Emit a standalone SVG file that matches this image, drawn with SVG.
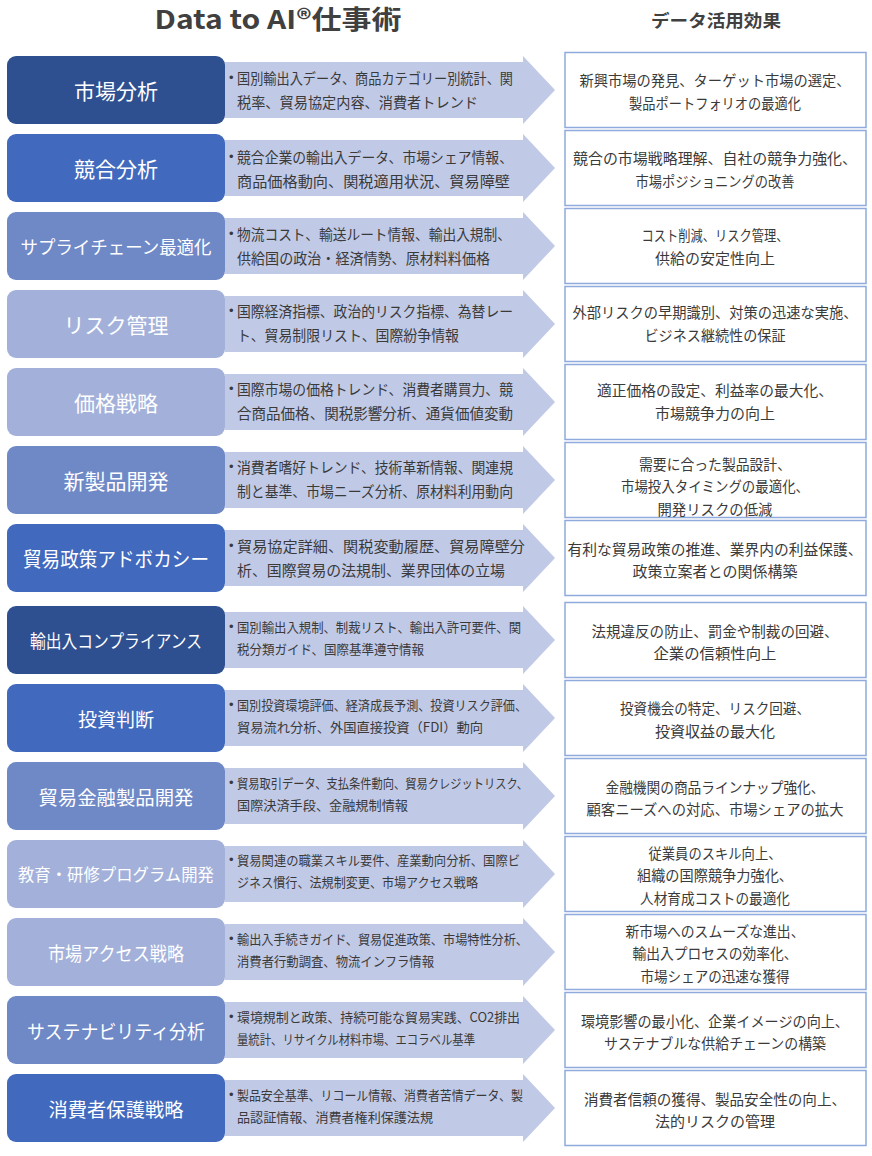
<svg xmlns="http://www.w3.org/2000/svg" width="872" height="1156" viewBox="0 0 872 1156">
<style>
text{font-family:"Meiryo UI","Noto Sans CJK JP","Noto Sans",sans-serif;}
.hd{fill:#404040;font-weight:bold;text-anchor:middle;}
.tt{fill:#fff;text-anchor:middle;dominant-baseline:central;}
.t1{font-size:21px;}
.t2{font-size:19px;}
.ar{fill:#3a3a3a;dominant-baseline:central;}
.a1{font-size:14.5px;}
.a2{font-size:13px;}
.bu{fill:#3a3a3a;font-family:"Liberation Sans",sans-serif;font-size:13px;dominant-baseline:central;}
.rt{fill:#3a3a3a;font-size:14.5px;text-anchor:middle;dominant-baseline:central;}
.arrow{fill:#C0C9E6;}
.rb{fill:#fff;stroke:#8FAADC;stroke-width:1.5;}
.c1{fill:#2F5090;}
.c2{fill:#4169BD;}
.c3{fill:#6F89C7;}
.c4{fill:#A3B1DA;}
</style>
<g id="header">
<text class="hd" x="278" y="29" font-size="26" textLength="247" lengthAdjust="spacingAndGlyphs">Data to AI®仕事術</text>
<text class="hd" x="716" y="27" font-size="17" textLength="130" lengthAdjust="spacingAndGlyphs">データ活用効果</text>
</g>
<g id="connectors">
<path class="arrow" d="M225,62H523V56L555,90L523,124V118H225Z"/>
<path class="arrow" d="M225,140H523V134L555,168L523,202V196H225Z"/>
<path class="arrow" d="M225,218H523V212L555,246L523,280V274H225Z"/>
<path class="arrow" d="M225,296H523V290L555,324L523,358V352H225Z"/>
<path class="arrow" d="M225,374H523V368L555,402L523,436V430H225Z"/>
<path class="arrow" d="M225,452H523V446L555,480L523,514V508H225Z"/>
<path class="arrow" d="M225,530H523V524L555,558L523,592V586H225Z"/>
<path class="arrow" d="M225,612H523V606L555,640L523,674V668H225Z"/>
<path class="arrow" d="M225,690H523V684L555,718L523,752V746H225Z"/>
<path class="arrow" d="M225,768H523V762L555,796L523,830V824H225Z"/>
<path class="arrow" d="M225,846H523V840L555,874L523,908V902H225Z"/>
<path class="arrow" d="M225,924H523V918L555,952L523,986V980H225Z"/>
<path class="arrow" d="M225,1002H523V996L555,1030L523,1064V1058H225Z"/>
<path class="arrow" d="M225,1080H523V1074L555,1108L523,1142V1136H225Z"/>
</g>
<g id="row1">
<rect class="c1" x="7" y="56" width="218" height="68" rx="9"/>
<text class="tt t1" x="116" y="90">市場分析</text>
<text class="bu" x="229" y="77">•</text>
<text class="ar a1" x="237" y="77" textLength="276" lengthAdjust="spacingAndGlyphs">国別輸出入データ、商品カテゴリー別統計、関</text>
<text class="ar a1" x="237" y="101" textLength="241" lengthAdjust="spacingAndGlyphs">税率、貿易協定内容、消費者トレンド</text>
<rect class="rb" x="565" y="52.5" width="301" height="75"/>
<text class="rt" x="715" y="79" textLength="271" lengthAdjust="spacingAndGlyphs">新興市場の発見、ターゲット市場の選定、</text>
<text class="rt" x="715" y="102" textLength="172" lengthAdjust="spacingAndGlyphs">製品ポートフォリオの最適化</text>
</g>
<g id="row2">
<rect class="c2" x="7" y="134" width="218" height="68" rx="9"/>
<text class="tt t1" x="116" y="168">競合分析</text>
<text class="bu" x="229" y="156">•</text>
<text class="ar a1" x="237" y="156" textLength="276" lengthAdjust="spacingAndGlyphs">競合企業の輸出入データ、市場シェア情報、</text>
<text class="ar a1" x="237" y="180" textLength="273" lengthAdjust="spacingAndGlyphs">商品価格動向、関税適用状況、貿易障壁</text>
<rect class="rb" x="565" y="130.5" width="301" height="75"/>
<text class="rt" x="715" y="157" textLength="284" lengthAdjust="spacingAndGlyphs">競合の市場戦略理解、自社の競争力強化、</text>
<text class="rt" x="715" y="180" textLength="159" lengthAdjust="spacingAndGlyphs">市場ポジショニングの改善</text>
</g>
<g id="row3">
<rect class="c3" x="7" y="212" width="218" height="68" rx="9"/>
<text class="tt" x="116" y="246" font-size="18" textLength="191" lengthAdjust="spacingAndGlyphs">サプライチェーン最適化</text>
<text class="bu" x="229" y="233">•</text>
<text class="ar a1" x="237" y="233" textLength="274" lengthAdjust="spacingAndGlyphs">物流コスト、輸送ルート情報、輸出入規制、</text>
<text class="ar a1" x="237" y="257" textLength="253" lengthAdjust="spacingAndGlyphs">供給国の政治・経済情勢、原材料料価格</text>
<rect class="rb" x="565" y="208.5" width="301" height="75"/>
<text class="rt" x="715" y="234" textLength="147" lengthAdjust="spacingAndGlyphs">コスト削減、リスク管理、</text>
<text class="rt" x="715" y="257" textLength="120" lengthAdjust="spacingAndGlyphs">供給の安定性向上</text>
</g>
<g id="row4">
<rect class="c4" x="7" y="290" width="218" height="68" rx="9"/>
<text class="tt t1" x="116" y="324">リスク管理</text>
<text class="bu" x="229" y="310">•</text>
<text class="ar a1" x="237" y="310" textLength="276" lengthAdjust="spacingAndGlyphs">国際経済指標、政治的リスク指標、為替レー</text>
<text class="ar a1" x="237" y="334" textLength="222" lengthAdjust="spacingAndGlyphs">ト、貿易制限リスト、国際紛争情報</text>
<rect class="rb" x="565" y="286.5" width="301" height="75"/>
<text class="rt" x="715" y="311" textLength="285" lengthAdjust="spacingAndGlyphs">外部リスクの早期識別、対策の迅速な実施、</text>
<text class="rt" x="715" y="334" textLength="141" lengthAdjust="spacingAndGlyphs">ビジネス継続性の保証</text>
</g>
<g id="row5">
<rect class="c4" x="7" y="368" width="218" height="68" rx="9"/>
<text class="tt t1" x="116" y="402">価格戦略</text>
<text class="bu" x="229" y="388">•</text>
<text class="ar a1" x="237" y="388" textLength="276" lengthAdjust="spacingAndGlyphs">国際市場の価格トレンド、消費者購買力、競</text>
<text class="ar a1" x="237" y="412" textLength="276" lengthAdjust="spacingAndGlyphs">合商品価格、関税影響分析、通貨価値変動</text>
<rect class="rb" x="565" y="364.5" width="301" height="75"/>
<text class="rt" x="715" y="389" textLength="236" lengthAdjust="spacingAndGlyphs">適正価格の設定、利益率の最大化、</text>
<text class="rt" x="715" y="412" textLength="120" lengthAdjust="spacingAndGlyphs">市場競争力の向上</text>
</g>
<g id="row6">
<rect class="c3" x="7" y="446" width="218" height="68" rx="9"/>
<text class="tt t1" x="116" y="480">新製品開発</text>
<text class="bu" x="229" y="466">•</text>
<text class="ar a1" x="237" y="466" textLength="276" lengthAdjust="spacingAndGlyphs">消費者嗜好トレンド、技術革新情報、関連規</text>
<text class="ar a1" x="237" y="490" textLength="276" lengthAdjust="spacingAndGlyphs">制と基準、市場ニーズ分析、原材料利用動向</text>
<rect class="rb" x="565" y="442.5" width="301" height="75"/>
<text class="rt" x="715" y="463" textLength="152" lengthAdjust="spacingAndGlyphs">需要に合った製品設計、</text>
<text class="rt" x="715" y="485" textLength="188" lengthAdjust="spacingAndGlyphs">市場投入タイミングの最適化、</text>
<text class="rt" x="715" y="508" textLength="115" lengthAdjust="spacingAndGlyphs">開発リスクの低減</text>
</g>
<g id="row7">
<rect class="c2" x="7" y="524" width="218" height="68" rx="9"/>
<text class="tt" x="116" y="558" font-size="20" textLength="186" lengthAdjust="spacingAndGlyphs">貿易政策アドボカシー</text>
<text class="bu" x="229" y="545">•</text>
<text class="ar a1" x="237" y="545" textLength="288" lengthAdjust="spacingAndGlyphs">貿易協定詳細、関税変動履歴、貿易障壁分</text>
<text class="ar a1" x="237" y="569" textLength="268" lengthAdjust="spacingAndGlyphs">析、国際貿易の法規制、業界団体の立場</text>
<rect class="rb" x="565" y="520.5" width="301" height="75"/>
<text class="rt" x="715" y="548" textLength="295" lengthAdjust="spacingAndGlyphs">有利な貿易政策の推進、業界内の利益保護、</text>
<text class="rt" x="715" y="570" textLength="165" lengthAdjust="spacingAndGlyphs">政策立案者との関係構築</text>
</g>
<g id="row8">
<rect class="c1" x="7" y="606" width="218" height="68" rx="9"/>
<text class="tt" x="116" y="640" font-size="18" textLength="172" lengthAdjust="spacingAndGlyphs">輸出入コンプライアンス</text>
<text class="bu" x="229" y="626">•</text>
<text class="ar a2" x="237" y="626" textLength="284" lengthAdjust="spacingAndGlyphs">国別輸出入規制、制裁リスト、輸出入許可要件、関</text>
<text class="ar a2" x="237" y="648" textLength="187" lengthAdjust="spacingAndGlyphs">税分類ガイド、国際基準遵守情報</text>
<rect class="rb" x="565" y="602.5" width="301" height="75"/>
<text class="rt" x="715" y="630" textLength="247" lengthAdjust="spacingAndGlyphs">法規違反の防止、罰金や制裁の回避、</text>
<text class="rt" x="715" y="652" textLength="123" lengthAdjust="spacingAndGlyphs">企業の信頼性向上</text>
</g>
<g id="row9">
<rect class="c2" x="7" y="684" width="218" height="68" rx="9"/>
<text class="tt t2" x="116" y="718">投資判断</text>
<text class="bu" x="229" y="704">•</text>
<text class="ar a2" x="237" y="704" textLength="290" lengthAdjust="spacingAndGlyphs">国別投資環境評価、経済成長予測、投資リスク評価、</text>
<text class="ar a2" x="237" y="726" textLength="246" lengthAdjust="spacingAndGlyphs">貿易流れ分析、外国直接投資（FDI）動向</text>
<rect class="rb" x="565" y="680.5" width="301" height="75"/>
<text class="rt" x="715" y="707" textLength="190" lengthAdjust="spacingAndGlyphs">投資機会の特定、リスク回避、</text>
<text class="rt" x="715" y="730" textLength="120" lengthAdjust="spacingAndGlyphs">投資収益の最大化</text>
</g>
<g id="row10">
<rect class="c3" x="7" y="762" width="218" height="68" rx="9"/>
<text class="tt t2" x="116" y="796" textLength="155" lengthAdjust="spacingAndGlyphs">貿易金融製品開発</text>
<text class="bu" x="229" y="782">•</text>
<text class="ar a2" x="237" y="782" textLength="291" lengthAdjust="spacingAndGlyphs">貿易取引データ、支払条件動向、貿易クレジットリスク、</text>
<text class="ar a2" x="237" y="804" textLength="171" lengthAdjust="spacingAndGlyphs">国際決済手段、金融規制情報</text>
<rect class="rb" x="565" y="758.5" width="301" height="75"/>
<text class="rt" x="715" y="786" textLength="219" lengthAdjust="spacingAndGlyphs">金融機関の商品ラインナップ強化、</text>
<text class="rt" x="715" y="808" textLength="257" lengthAdjust="spacingAndGlyphs">顧客ニーズへの対応、市場シェアの拡大</text>
</g>
<g id="row11">
<rect class="c4" x="7" y="840" width="218" height="68" rx="9"/>
<text class="tt" x="116" y="874" font-size="16.5" textLength="196" lengthAdjust="spacingAndGlyphs">教育・研修プログラム開発</text>
<text class="bu" x="229" y="859">•</text>
<text class="ar a2" x="237" y="859" textLength="283" lengthAdjust="spacingAndGlyphs">貿易関連の職業スキル要件、産業動向分析、国際ビ</text>
<text class="ar a2" x="237" y="881" textLength="241" lengthAdjust="spacingAndGlyphs">ジネス慣行、法規制変更、市場アクセス戦略</text>
<rect class="rb" x="565" y="836.5" width="301" height="75"/>
<text class="rt" x="715" y="852" textLength="133" lengthAdjust="spacingAndGlyphs">従業員のスキル向上、</text>
<text class="rt" x="715" y="874" textLength="156" lengthAdjust="spacingAndGlyphs">組織の国際競争力強化、</text>
<text class="rt" x="715" y="897" textLength="150" lengthAdjust="spacingAndGlyphs">人材育成コストの最適化</text>
</g>
<g id="row12">
<rect class="c4" x="7" y="918" width="218" height="68" rx="9"/>
<text class="tt t2" x="116" y="952" textLength="136" lengthAdjust="spacingAndGlyphs">市場アクセス戦略</text>
<text class="bu" x="229" y="938">•</text>
<text class="ar a2" x="237" y="938" textLength="291" lengthAdjust="spacingAndGlyphs">輸出入手続きガイド、貿易促進政策、市場特性分析、</text>
<text class="ar a2" x="237" y="960" textLength="197" lengthAdjust="spacingAndGlyphs">消費者行動調査、物流インフラ情報</text>
<rect class="rb" x="565" y="914.5" width="301" height="75"/>
<text class="rt" x="715" y="930" textLength="179" lengthAdjust="spacingAndGlyphs">新市場へのスムーズな進出、</text>
<text class="rt" x="715" y="952" textLength="165" lengthAdjust="spacingAndGlyphs">輸出入プロセスの効率化、</text>
<text class="rt" x="715" y="975" textLength="149" lengthAdjust="spacingAndGlyphs">市場シェアの迅速な獲得</text>
</g>
<g id="row13">
<rect class="c3" x="7" y="996" width="218" height="68" rx="9"/>
<text class="tt t2" x="116" y="1030" textLength="178" lengthAdjust="spacingAndGlyphs">サステナビリティ分析</text>
<text class="bu" x="229" y="1016">•</text>
<text class="ar a2" x="237" y="1016" textLength="283" lengthAdjust="spacingAndGlyphs">環境規制と政策、持続可能な貿易実践、CO2排出</text>
<text class="ar a2" x="237" y="1038" textLength="238" lengthAdjust="spacingAndGlyphs">量統計、リサイクル材料市場、エコラベル基準</text>
<rect class="rb" x="565" y="992.5" width="301" height="75"/>
<text class="rt" x="715" y="1020" textLength="268" lengthAdjust="spacingAndGlyphs">環境影響の最小化、企業イメージの向上、</text>
<text class="rt" x="715" y="1042" textLength="222" lengthAdjust="spacingAndGlyphs">サステナブルな供給チェーンの構築</text>
</g>
<g id="row14">
<rect class="c2" x="7" y="1074" width="218" height="68" rx="9"/>
<text class="tt t2" x="116" y="1108" textLength="135" lengthAdjust="spacingAndGlyphs">消費者保護戦略</text>
<text class="bu" x="229" y="1094">•</text>
<text class="ar a2" x="237" y="1094" textLength="286" lengthAdjust="spacingAndGlyphs">製品安全基準、リコール情報、消費者苦情データ、製</text>
<text class="ar a2" x="237" y="1116" textLength="196" lengthAdjust="spacingAndGlyphs">品認証情報、消費者権利保護法規</text>
<rect class="rb" x="565" y="1070.5" width="301" height="75"/>
<text class="rt" x="715" y="1098" textLength="262" lengthAdjust="spacingAndGlyphs">消費者信頼の獲得、製品安全性の向上、</text>
<text class="rt" x="715" y="1120" textLength="120" lengthAdjust="spacingAndGlyphs">法的リスクの管理</text>
</g>
</svg>
